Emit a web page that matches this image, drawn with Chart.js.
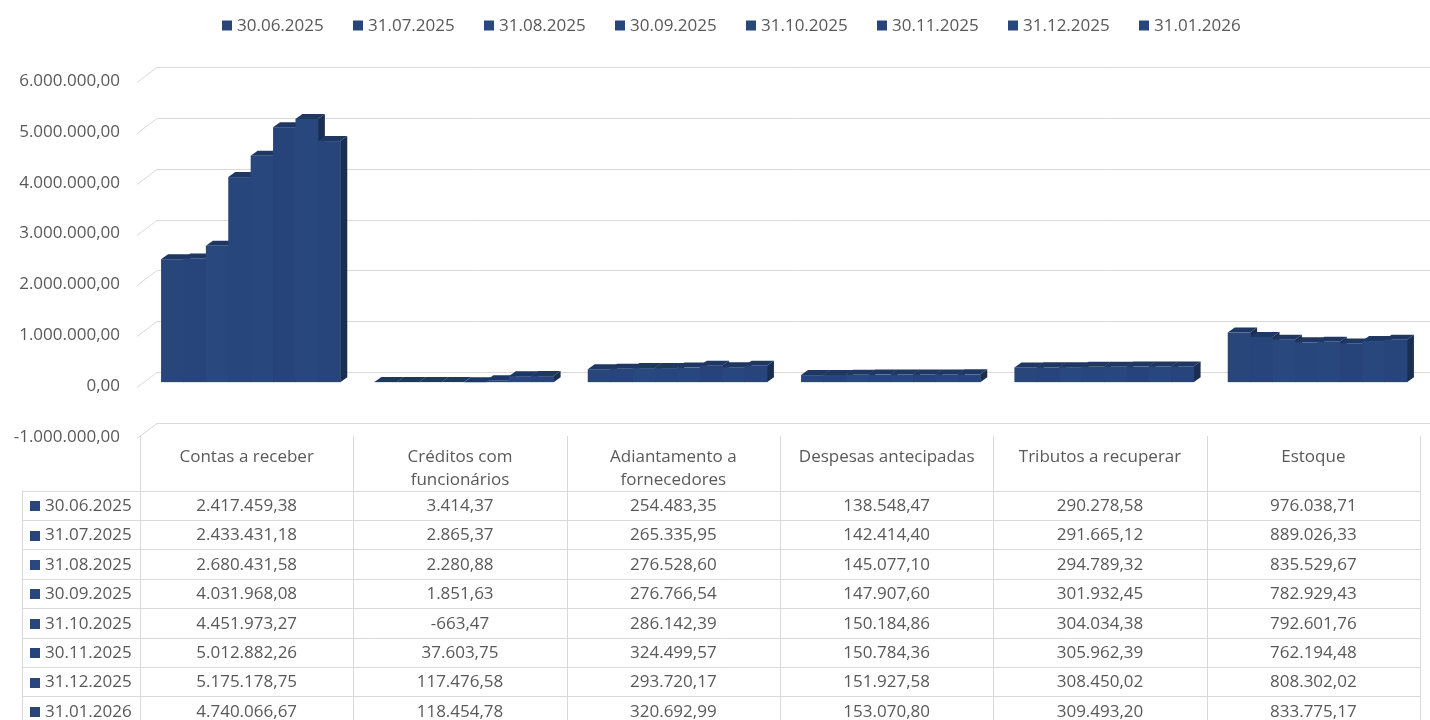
<!DOCTYPE html>
<html>
<head>
<meta charset="utf-8">
<script src="https://cdn.jsdelivr.net/npm/chart.js@4.4.1/dist/chart.umd.min.js"></script>
<style>
html, body { margin: 0; background: #fff; }
#wrap { width: 1430px; height: 720px; position: relative; }
</style>
</head>
<body>
<div id="wrap"><canvas id="myChart"></canvas></div>
<script>
// categories and series (one array per closing date)
const categories = ['Contas a receber', ['Créditos com', 'funcionários'], ['Adiantamento a', 'fornecedores'],
    'Despesas antecipadas', 'Tributos a recuperar', 'Estoque'];
const seriesLabels = ['30.06.2025', '31.07.2025', '31.08.2025', '30.09.2025', '31.10.2025', '30.11.2025', '31.12.2025', '31.01.2026'];

const jun2025 = [2417459.38, 3414.37, 254483.35, 138548.47, 290278.58, 976038.71];
const jul2025 = [2433431.18, 2865.37, 265335.95, 142414.40, 291665.12, 889026.33];
const ago2025 = [2680431.58, 2280.88, 276528.60, 145077.10, 294789.32, 835529.67];
const set2025 = [4031968.08, 1851.63, 276766.54, 147907.60, 301932.45, 782929.43];
const out2025 = [4451973.27, -663.47, 286142.39, 150184.86, 304034.38, 792601.76];
const nov2025 = [5012882.26, 37603.75, 324499.57, 150784.36, 305962.39, 762194.48];
const dez2025 = [5175178.75, 117476.58, 293720.17, 151927.58, 308450.02, 808302.02];
const jan2026 = [4740066.67, 118454.78, 320692.99, 153070.80, 309493.20, 833775.17];
const seriesValues = [jun2025, jul2025, ago2025, set2025, out2025, nov2025, dez2025, jan2026];

const yMin = -1000000, yMax = 6000000, yStep = 1000000;

// styles
const FONT = '"Open Sans", sans-serif';
const TXT = '#595959';
const GRID = '#d9d9d9';
const fronts = ['#284679', '#27457a', '#29487d', '#27467b', '#28477c', '#26447a', '#28477d', '#27457b'];
const DX = 7, DY = 5;

function fmt(v) {
    let s = Math.abs(v).toFixed(2).split('.');
    let i = s[0].replace(/\B(?=(\d{3})+(?!\d))/g, '.');
    return (v < 0 ? '-' : '') + i + ',' + s[1];
}

function poly(ctx, pts) {
    ctx.beginPath();
    ctx.moveTo(pts[0][0], pts[0][1]);
    for (let k = 1; k < pts.length; k++) ctx.lineTo(pts[k][0], pts[k][1]);
    ctx.closePath();
    ctx.fill();
}

// back wall gridlines + 3D columns, drawn left to right so each front hides the previous side
const bars3d = {
    id: 'bars3d',
    beforeDatasetsDraw(chart) {
        const { ctx, chartArea: a, scales: { y } } = chart;
        ctx.save();
        ctx.strokeStyle = GRID;
        ctx.lineWidth = 1;
        y.ticks.forEach(t => {
            const py = Math.round(y.getPixelForValue(t.value)) + 0.5;
            ctx.beginPath();
            ctx.moveTo(a.left - 7, py + 5);
            ctx.lineTo(a.left + 13, py - 10);
            ctx.lineTo(chart.width, py - 10);
            ctx.stroke();
        });

        const dsets = chart.data.datasets;
        categories.forEach((c, k) => {
            dsets.forEach((ds, i) => {
                const bar = chart.getDatasetMeta(i).data[k];
                const l = bar.x - bar.width / 2, r = bar.x + bar.width / 2;
                const t = Math.min(bar.y, bar.base), b = Math.max(bar.y, bar.base);
                ctx.fillStyle = ds.sideColor;
                poly(ctx, [[r, t], [r + DX, t - DY], [r + DX, b - DY], [r, b]]);
                ctx.fillStyle = ds.topColor;
                poly(ctx, [[l, t], [l + DX, t - DY], [r + DX, t - DY], [r, t]]);
                ctx.fillStyle = ds.backgroundColor;
                ctx.fillRect(l, t, r - l + 0.5, b - t);
            });
        });
        ctx.restore();
        return false;
    }
};

// legend on top + data table under the plot
const legendTable = {
    id: 'legendTable',
    afterDraw(chart) {
        const { ctx, chartArea: a } = chart;
        const dsets = chart.data.datasets;
        ctx.save();
        ctx.font = '17px ' + FONT;
        ctx.textBaseline = 'middle';

        // legend
        dsets.forEach((ds, i) => {
            const x = 222 + i * 131;
            ctx.fillStyle = ds.backgroundColor;
            ctx.fillRect(x, 20.5, 10, 10);
            ctx.fillStyle = TXT;
            ctx.textAlign = 'left';
            ctx.fillText(ds.label, x + 15, 26);
        });

        // table
        const n = categories.length;
        const colW = (a.right - a.left) / n;
        const x0 = a.left - 4;
        const xEnd = x0 + n * colW;
        const hTop = 436, hBot = 490.5, rowH = 29.4, labL = 22.5;
        ctx.strokeStyle = GRID;
        ctx.lineWidth = 1;
        ctx.beginPath();
        for (let k = 0; k <= n; k++) {
            const x = Math.round(x0 + k * colW) + 0.5;
            ctx.moveTo(x, hTop);
            ctx.lineTo(x, chart.height);
        }
        ctx.moveTo(labL, hBot);
        ctx.lineTo(labL, chart.height);
        for (let r = 0; r <= dsets.length; r++) {
            const y = Math.round(hBot + r * rowH) + 0.5;
            ctx.moveTo(labL, y);
            ctx.lineTo(xEnd, y);
        }
        ctx.stroke();

        ctx.fillStyle = TXT;
        ctx.textAlign = 'center';
        categories.forEach((c, k) => {
            const cx = x0 + (k + 0.5) * colW;
            const lines = Array.isArray(c) ? c : [c];
            lines.forEach((ln, j) => ctx.fillText(ln, cx, 457 + j * 23));
        });

        dsets.forEach((ds, r) => {
            const cy = hBot + (r + 0.5) * rowH + 1;
            ctx.fillStyle = ds.backgroundColor;
            ctx.fillRect(30, Math.round(cy) - 5, 10, 10);
            ctx.fillStyle = TXT;
            ctx.textAlign = 'left';
            ctx.fillText(ds.label, 45, cy);
            ctx.textAlign = 'center';
            ds.data.forEach((v, k) => ctx.fillText(fmt(v), x0 + (k + 0.5) * colW, cy));
        });
        ctx.restore();
    }
};

const datasets = seriesLabels.map((lab, i) => ({
    label: lab,
    data: seriesValues[i],
    backgroundColor: fronts[i],
    topColor: '#1f3763',
    sideColor: '#1a2e52',
    borderWidth: 0,
    categoryPercentage: 0.84,
    barPercentage: 1.0
}));

let ctx = document.getElementById('myChart').getContext('2d');
new Chart(ctx, {
    type: 'bar',
    data: { labels: categories, datasets: datasets },
    options: {
        responsive: true,
        maintainAspectRatio: false,
        animation: false,
        layout: { padding: { top: 77, bottom: 287, left: 0, right: 6 } },
        plugins: { legend: { display: false }, tooltip: { enabled: false } },
        scales: {
            x: { display: false },
            y: {
                min: yMin,
                max: yMax,
                afterFit(scale) { scale.width = 144; },
                border: { display: false },
                grid: { display: false, drawTicks: false },
                ticks: {
                    stepSize: yStep,
                    padding: 24,
                    labelOffset: 4,
                    color: TXT,
                    font: { family: FONT, size: 17 },
                    callback: v => fmt(v)
                }
            }
        }
    },
    plugins: [bars3d, legendTable]
});
</script>
</body>
</html>
